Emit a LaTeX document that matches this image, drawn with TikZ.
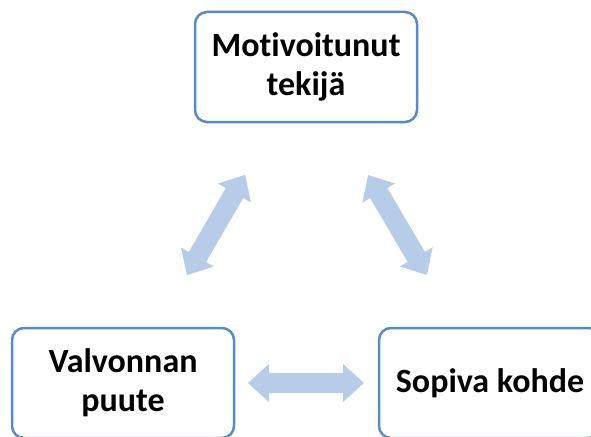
\documentclass[tikz,border=0pt]{standalone}
\usepackage{fontspec}
\setmainfont{Carlito}[Ligatures={NoCommon}]
\definecolor{boxline}{HTML}{5A8AC6}
\definecolor{arrowfill}{HTML}{B7CCE8}
\tikzset{
  boxnode/.style={draw=boxline, line width=2.5pt, rounded corners=12pt, fill=white,
    minimum width=222pt, minimum height=110pt, align=center,
    font=\fontsize{34}{39}\selectfont\bfseries, inner sep=0pt},
  dblarrow/.style={fill=arrowfill, draw=none}
}
\newcommand{\mydblarrow}{(-58,0) -- (-37,19) -- (-37,10) -- (37,10) -- (37,19) -- (58,0) -- (37,-19) -- (37,-10) -- (-37,-10) -- (-37,-19) -- cycle}
\begin{document}
\begin{tikzpicture}[x=1pt,y=-1pt]
\useasboundingbox (0,0) rectangle (591,436);
\clip (0,0) rectangle (591,436);
\node[boxnode] (top) at (306,67) {Motivoitunut\\tekijä};
\node[boxnode] (left) at (123,383) {Valvonnan\\puute};
\node[boxnode] (right) at (490,383) {Sopiva kohde};
\begin{scope}[shift={(216,225)}, rotate=59.9]
  \fill[dblarrow] \mydblarrow;
\end{scope}
\begin{scope}[shift={(397.5,225)}, rotate=-59.5]
  \fill[dblarrow] \mydblarrow;
\end{scope}
\begin{scope}[shift={(306,383)}]
  \fill[dblarrow] \mydblarrow;
\end{scope}
\end{tikzpicture}
\end{document}
